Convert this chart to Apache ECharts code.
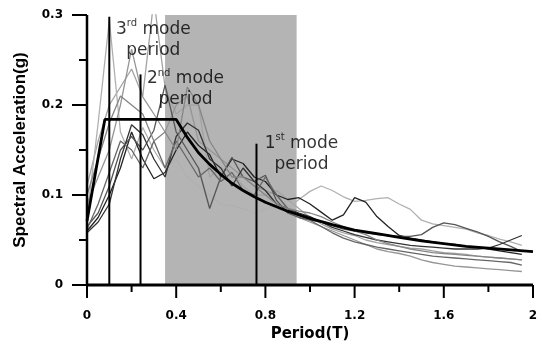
<!DOCTYPE html>
<html>
<head>
<meta charset="utf-8">
<script src="https://cdn.jsdelivr.net/npm/echarts@6/dist/echarts.min.js"></script>
<style>
html,body{margin:0;padding:0;background:#fff;}
#chart{width:542px;height:347px;}
</style>
</head>
<body>
<div id="chart"></div>
<script>
// Sampled periods (s) for the ground-motion response spectra
var periods = [0,0.05,0.1,0.15,0.2,0.25,0.3,0.35,0.4,0.45,0.5,0.55,0.6,0.65,0.7,0.75,0.8,0.85,0.9,0.95,
               1.0,1.05,1.1,1.15,1.2,1.25,1.3,1.35,1.4,1.45,1.5,1.55,1.6,1.65,1.7,1.75,1.8,1.85,1.9,1.95];

// Spectral accelerations (g) of each record
var rec1 = [0.11,0.16,0.2,0.22,0.24,0.21,0.317,0.22,0.19,0.2,0.2,0.12,0.13,0.125,0.11,0.1,0.1,0.105,0.095,0.085,
            0.075,0.068,0.062,0.058,0.055,0.05,0.047,0.045,0.043,0.041,0.04,0.038,0.036,0.035,0.034,0.032,0.031,0.03,0.029,0.028];
var rec2 = [0.075,0.18,0.294,0.17,0.14,0.175,0.15,0.13,0.14,0.12,0.11,0.1,0.09,0.088,0.085,0.08,0.084,0.09,0.085,0.095,
            0.104,0.11,0.105,0.098,0.093,0.094,0.096,0.097,0.09,0.084,0.072,0.068,0.066,0.064,0.062,0.058,0.055,0.051,0.048,0.044];
var rec3 = [0.09,0.12,0.15,0.2,0.262,0.209,0.19,0.17,0.2,0.21,0.16,0.15,0.14,0.13,0.12,0.11,0.105,0.1,0.085,0.075,
            0.07,0.065,0.06,0.055,0.05,0.045,0.04,0.037,0.035,0.032,0.028,0.025,0.023,0.021,0.02,0.019,0.018,0.017,0.016,0.015];
var rec4 = [0.06,0.075,0.1,0.13,0.17,0.14,0.118,0.125,0.15,0.17,0.155,0.145,0.12,0.14,0.135,0.12,0.115,0.1,0.095,0.097,
            0.09,0.081,0.072,0.078,0.097,0.092,0.076,0.065,0.055,0.052,0.05,0.048,0.046,0.045,0.043,0.042,0.04,0.038,0.036,0.034];
var rec5 = [0.065,0.08,0.11,0.15,0.165,0.15,0.172,0.222,0.17,0.15,0.13,0.085,0.12,0.142,0.12,0.115,0.122,0.094,0.08,0.075,
            0.072,0.07,0.066,0.062,0.06,0.058,0.056,0.055,0.054,0.054,0.056,0.064,0.069,0.067,0.063,0.059,0.054,0.048,0.043,0.037];
var rec6 = [0.058,0.07,0.09,0.14,0.178,0.167,0.14,0.12,0.165,0.18,0.172,0.14,0.13,0.11,0.13,0.115,0.105,0.09,0.085,0.08,
            0.076,0.07,0.064,0.06,0.056,0.053,0.05,0.048,0.046,0.044,0.043,0.042,0.041,0.04,0.04,0.04,0.041,0.045,0.05,0.055];
var rec7 = [0.062,0.09,0.125,0.16,0.15,0.13,0.16,0.13,0.16,0.14,0.12,0.13,0.115,0.125,0.105,0.1,0.12,0.1,0.085,0.077,
            0.072,0.065,0.058,0.052,0.048,0.045,0.042,0.04,0.038,0.036,0.034,0.032,0.031,0.03,0.029,0.028,0.027,0.026,0.025,0.022];
var rec8 = [0.1,0.14,0.18,0.21,0.2,0.19,0.16,0.17,0.15,0.22,0.2,0.16,0.14,0.12,0.12,0.11,0.1,0.09,0.085,0.082,
            0.08,0.076,0.07,0.065,0.06,0.056,0.05,0.046,0.043,0.04,0.038,0.036,0.035,0.034,0.033,0.032,0.031,0.03,0.029,0.028];

var records = [rec1, rec2, rec3, rec4, rec5, rec6, rec7, rec8];
var recordColors = ['#a3a3a3','#b0b0b0','#969696','#222222','#555555','#333333','#666666','#858585'];

// Design spectrum
var designPeriods = [0,0.08,0.4,0.45,0.5,0.55,0.6,0.65,0.7,0.75,0.8,0.9,1.0,1.1,1.2,1.3,1.4,1.5,1.6,1.7,1.8,1.9,2.0];
var designValues  = [0.071,0.184,0.184,0.164,0.147,0.134,0.123,0.113,0.105,0.098,0.092,0.082,0.074,0.067,0.061,0.057,0.053,0.049,0.046,0.043,0.041,0.039,0.037];

// Modal periods and the heights of their marker lines
var modePeriods = [0.1, 0.24, 0.76];
var modeTops = [0.298, 0.234, 0.157];
var modeOrdinals = [['3','rd'],['2','nd'],['1','st']];

// Period range of interest (shaded band)
var bandRange = [0.35, 0.94];

// Axis ranges and tick positions
var xRange = [0, 2];
var yRange = [0, 0.3];
var xMajorTicks = [0, 0.4, 0.8, 1.2, 1.6, 2];
var xMinorTicks = [0.2, 0.6, 1.0, 1.4, 1.8];
var yMajorTicks = [0, 0.1, 0.2, 0.3];
var yMinorTicks = [0.05, 0.15, 0.25];

var chart = echarts.init(document.getElementById('chart'), null, {renderer:'canvas'});

function pairs(xs, ys){ return xs.map(function(x,i){ return [x, ys[i]]; }); }
function fmt(v){ return String(Math.round(v*10)/10); }

var series = [];

// Shaded band drawn underneath everything
series.push({
  type:'line', data:[], silent:true,
  markArea:{
    silent:true,
    itemStyle:{color:'#b4b4b4'},
    data:[[{xAxis:bandRange[0], yAxis:yRange[0]},{xAxis:bandRange[1], yAxis:yRange[1]}]]
  },
  z:1
});

records.forEach(function(r, i){
  series.push({
    type:'line', data:pairs(periods, r), showSymbol:false, symbol:'none',
    lineStyle:{color:recordColors[i], width:1.3}, z:3, silent:true
  });
});

series.push({
  type:'line', data:pairs(designPeriods, designValues), symbol:'none',
  lineStyle:{color:'#000', width:2.8}, z:5, silent:true
});

var textFont = 'DejaVu Sans, Verdana, sans-serif';
var labelOffsets = [[44,23],[45,15],[45,10]];
modePeriods.forEach(function(p, i){
  series.push({
    type:'line', data:[[p,0],[p,modeTops[i]]], symbol:'none',
    lineStyle:{color:'#000', width:2}, z:6, silent:true
  });
  series.push({
    type:'scatter', data:[[p, modeTops[i]]], symbolSize:0, z:7, silent:true,
    label:{
      show:true, position:'inside', offset:labelOffsets[i],
      formatter:'{n|'+modeOrdinals[i][0]+'}{s|'+modeOrdinals[i][1]+'}{n| mode}\n{n|period}',
      align:'center', verticalAlign:'middle', lineHeight:21,
      rich:{
        n:{fontFamily:textFont, fontSize:17, color:'#000', lineHeight:21},
        s:{fontFamily:textFont, fontSize:10, color:'#000', verticalAlign:'top', lineHeight:21, padding:[0,0,8,0]}
      }
    }
  });
});

// Axis lines along the bottom and left edges of the plot
series.push({
  type:'line', data:[[xRange[0], yRange[0]],[xRange[1], yRange[0]]], symbol:'none', clip:false,
  lineStyle:{color:'#000', width:3}, z:10, silent:true
});
series.push({
  type:'line', data:[[xRange[0], yRange[0]],[xRange[0], yRange[1]]], symbol:'none', clip:false,
  lineStyle:{color:'#000', width:2.5}, z:10, silent:true
});

// Outward major / minor ticks
var axisStroke = {stroke:'#000', lineWidth:2};
function tickSeries(values, isX, len){
  return {
    type:'custom', coordinateSystem:'cartesian2d', clip:false, silent:true, z:10,
    data:values.map(function(v){ return isX ? [v, yRange[0]] : [xRange[0], v]; }),
    renderItem:function(params, api){
      var p = api.coord([api.value(0), api.value(1)]);
      var shape = isX ? {x1:p[0], y1:p[1], x2:p[0], y2:p[1]+len}
                      : {x1:p[0], y1:p[1], x2:p[0]-len, y2:p[1]};
      return {type:'line', shape:shape, style:axisStroke};
    }
  };
}
series.push(tickSeries(xMajorTicks, true, 13));
series.push(tickSeries(xMinorTicks, true, 7));
series.push(tickSeries(yMajorTicks, false, 15));
series.push(tickSeries(yMinorTicks, false, 8));

var tickFont = {fontFamily:textFont, fontWeight:'bold', fontSize:12, color:'#000'};

chart.setOption({
  animation:false,
  backgroundColor:'#fff',
  grid:{left:87, right:9, top:15, bottom:62, containLabel:false},
  xAxis:{
    type:'value', min:xRange[0], max:xRange[1], interval:0.4,
    name:'Period(T)', nameLocation:'middle', nameGap:42,
    nameTextStyle:{fontFamily:textFont, fontSize:15, fontWeight:'bold', color:'#000'},
    axisLine:{show:false},
    axisTick:{show:false},
    axisLabel:Object.assign({show:true, margin:25, formatter:fmt}, tickFont),
    splitLine:{show:false}
  },
  yAxis:{
    type:'value', min:yRange[0], max:yRange[1], interval:0.1,
    name:'Spectral Acceleration(g)', nameLocation:'middle', nameGap:58, nameRotate:90,
    nameTextStyle:{fontFamily:'Liberation Sans, Arial, sans-serif', fontSize:17, fontWeight:'bold', color:'#000'},
    axisLine:{show:false},
    axisTick:{show:false},
    axisLabel:Object.assign({show:true, margin:24, formatter:fmt}, tickFont),
    splitLine:{show:false}
  },
  series:series
});
</script>
</body>
</html>
